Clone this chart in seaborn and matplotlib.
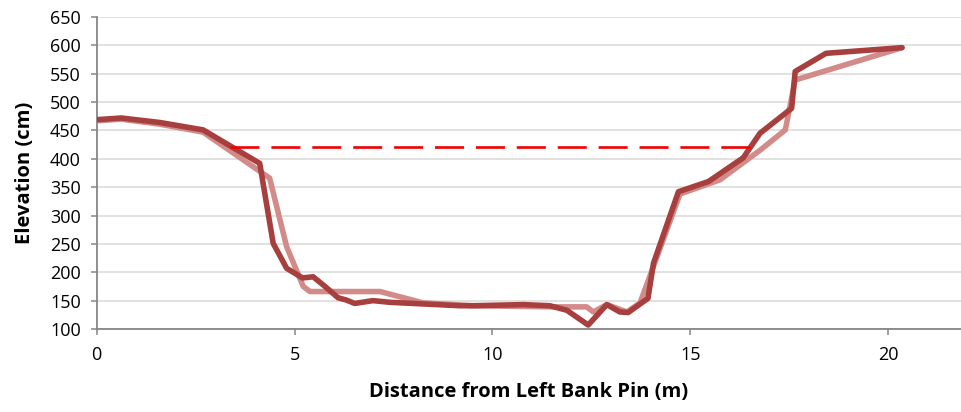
import matplotlib
matplotlib.use("Agg")
import matplotlib.pyplot as plt
import seaborn as sns
import pandas as pd

# Survey A (darker line)
dist_a = [0, 0.62, 1.6, 2.69, 4.12, 4.46, 4.8, 5.2, 5.47, 5.77, 6.1, 6.31, 6.52,
          6.98, 7.41, 9.18, 9.5, 10.78, 11.45, 11.88, 12.42, 12.89, 13.22, 13.43,
          13.93, 14.07, 14.7, 15.46, 16.34, 16.76, 17.56, 17.65, 18.43, 20.35]
elev_a = [469, 472, 464, 451, 392, 251, 207, 190, 192, 175, 155, 151, 145,
          150, 147, 141, 141, 143, 141, 133, 107, 143, 130, 129,
          154, 216, 342, 360, 402, 445, 489, 554, 586, 596]

# Survey B (lighter line)
dist_b = [0, 0.62, 1.6, 2.69, 4.37, 4.8, 5.22, 5.39, 7.16, 8.25, 9.5, 11.45,
          12.38, 12.55, 12.89, 13.4, 13.73, 14.74, 15.75, 16.76, 17.4, 17.65, 20.35]
elev_b = [467, 470, 461, 447, 366, 245, 175, 166, 166, 146, 141, 139,
          139, 130, 143, 130, 146, 338, 363, 415, 451, 539, 596]

# Bankfull level (dashed)
bank_x = [3.36, 16.5]
bank_y = [421, 421]

y_ticks = [100, 150, 200, 250, 300, 350, 400, 450, 500, 550, 600, 650]
x_ticks = [0, 5, 10, 15, 20]

sns.set_theme(style="white")
plt.rcParams['font.family'] = ['Open Sans', 'DejaVu Sans']

fig = plt.figure(figsize=(9.61, 4.12), dpi=100)
ax = fig.add_axes([0.1006, 0.2015, 0.8994, 0.7572])

df_a = pd.DataFrame({"x": dist_a, "y": elev_a})
df_b = pd.DataFrame({"x": dist_b, "y": elev_b})
df_c = pd.DataFrame({"x": bank_x, "y": bank_y})

sns.lineplot(data=df_b, x="x", y="y", sort=False, ax=ax, color="#D38B89",
             linewidth=4.0, solid_joinstyle="round", solid_capstyle="round", zorder=3)
sns.lineplot(data=df_a, x="x", y="y", sort=False, ax=ax, color="#A63F3D",
             linewidth=4.0, solid_joinstyle="round", solid_capstyle="round", zorder=4)
sns.lineplot(data=df_c, x="x", y="y", sort=False, ax=ax, color="#F00000",
             linewidth=1.9, zorder=5, dashes=False)
ax.lines[-1].set_dashes([11, 4.5])

ax.set_xlim(0, 21.84)
ax.set_ylim(100, 650)
ax.set_yticks(y_ticks)
ax.set_xticks(x_ticks)
ax.set_yticklabels([str(v) for v in y_ticks])
ax.set_xticklabels([str(v) for v in x_ticks])

ax.yaxis.grid(True, color="#D9D9D9", linewidth=1.1)
ax.set_axisbelow(True)
for s in ["top", "right"]:
    ax.spines[s].set_visible(False)
for s in ["left", "bottom"]:
    ax.spines[s].set_color("#868686")
    ax.spines[s].set_linewidth(1.3)

ax.tick_params(axis="both", which="major", direction="out", length=4.5, width=1.1,
               color="#868686", labelsize=13, labelcolor="black")
ax.tick_params(axis="y", pad=7)
ax.tick_params(axis="x", pad=8)
ax.tick_params(left=True, bottom=True)

ax.set_xlabel("Distance from Left Bank Pin (m)", fontsize=14.5, fontweight="bold",
              color="black", labelpad=13)
ax.set_ylabel("Elevation (cm)", fontsize=14.5, fontweight="bold", color="black",
              labelpad=11)

fig.savefig("out.png", dpi=100)
